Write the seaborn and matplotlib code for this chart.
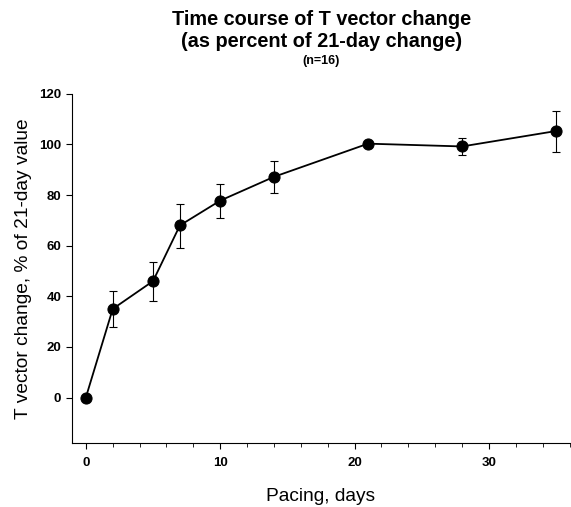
import matplotlib
matplotlib.use("Agg")
import matplotlib.pyplot as plt
import seaborn as sns
import pandas as pd
from matplotlib.ticker import MultipleLocator

# data
days = [0, 2, 5, 7, 10, 14, 21, 28, 35]
pct_change = [0, 35, 46, 68, 77.8, 87.2, 100.3, 99.2, 105.3]
err_low = [0, 7.2, 7.9, 9.0, 6.7, 6.4, 0, 3.4, 8.1]
err_high = [0, 7.2, 7.7, 8.6, 6.7, 6.3, 0, 3.2, 8.0]

df = pd.DataFrame({"Pacing, days": days, "pct": pct_change})

sns.set_style("ticks")
plt.rcParams['font.family'] = ['Liberation Sans', 'DejaVu Sans']
plt.rcParams['text.color'] = 'black'
plt.rcParams['axes.labelcolor'] = 'black'
plt.rcParams['xtick.color'] = 'black'
plt.rcParams['ytick.color'] = 'black'
plt.rcParams['axes.edgecolor'] = 'black'

fig = plt.figure(figsize=(5.71, 5.07), dpi=100)
ax = fig.add_axes([0.1256, 0.126, 0.872, 0.689])

ax.errorbar(days, pct_change, yerr=[err_low, err_high], fmt="none",
            ecolor="black", elinewidth=0.8, capsize=3, capthick=0.8, zorder=2)
sns.lineplot(data=df, x="Pacing, days", y="pct", color="black", linewidth=1.3,
             marker="o", markersize=8, markeredgecolor="black", ax=ax, zorder=3)

ax.set_xlim(-1.05, 36)
ax.set_ylim(-18, 120)
ax.set_xticks([0, 10, 20, 30])
ax.xaxis.set_minor_locator(MultipleLocator(2))
ax.set_yticks([0, 20, 40, 60, 80, 100, 120])
ax.tick_params(axis="both", which="major", length=4, width=0.8, labelsize=9.5)
ax.tick_params(axis="x", which="minor", length=3, width=0.6)
ax.tick_params(axis="x", which="major", pad=6)
for lab in ax.get_xticklabels() + ax.get_yticklabels():
    lab.set_fontweight("bold")
ax.spines["top"].set_visible(False)
ax.spines["right"].set_visible(False)
ax.spines["left"].set_linewidth(0.8)
ax.spines["bottom"].set_linewidth(0.8)

ax.set_xlabel("Pacing, days", fontsize=13.8, labelpad=14)
ax.set_ylabel("T vector change, % of 21-day value", fontsize=13.8, labelpad=5)

fig.text(0.563, 0.962, "Time course of T vector change", ha="center", va="center",
         fontsize=14.3, fontweight="bold")
fig.text(0.563, 0.918, "(as percent of 21-day change)", ha="center", va="center",
         fontsize=14.3, fontweight="bold")
fig.text(0.563, 0.880, "(n=16)", ha="center", va="center",
         fontsize=9, fontweight="bold")

fig.savefig("out.png", dpi=100)
